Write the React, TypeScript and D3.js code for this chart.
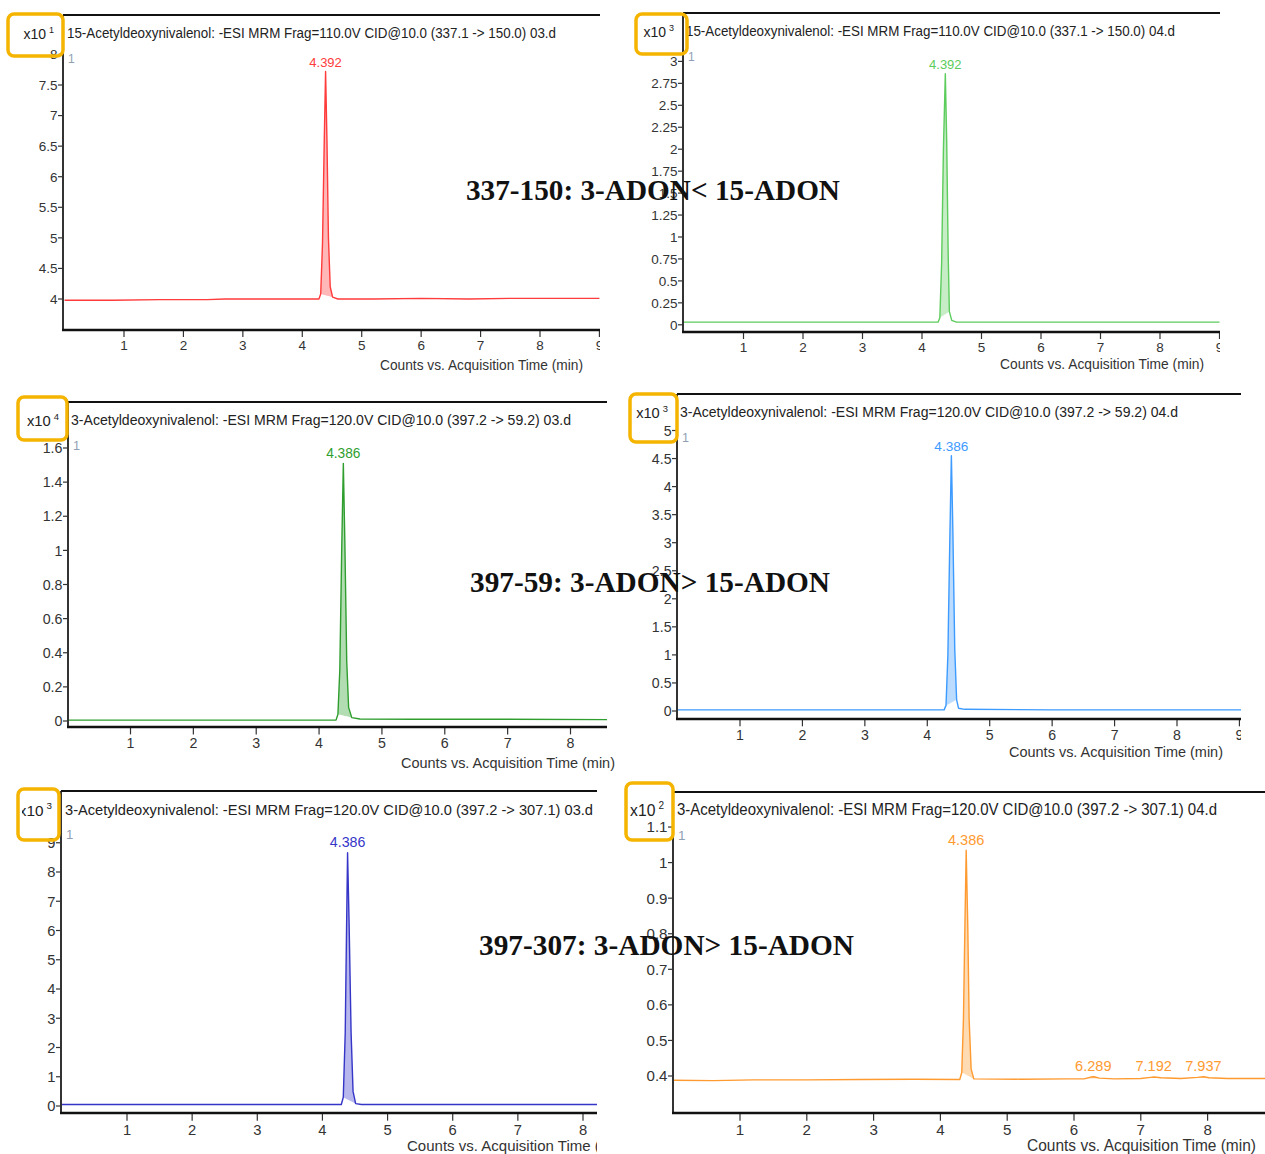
import React from 'react';
import * as d3 from 'd3';

type Pt = [number, number];

// ---- texts ----
const titles = [
  '15-Acetyldeoxynivalenol: -ESI MRM Frag=110.0V CID@10.0 (337.1 -> 150.0) 03.d',
  '15-Acetyldeoxynivalenol: -ESI MRM Frag=110.0V CID@10.0 (337.1 -> 150.0) 04.d',
  '3-Acetyldeoxynivalenol: -ESI MRM Frag=120.0V CID@10.0 (397.2 -> 59.2) 03.d',
  '3-Acetyldeoxynivalenol: -ESI MRM Frag=120.0V CID@10.0 (397.2 -> 59.2) 04.d',
  '3-Acetyldeoxynivalenol: -ESI MRM Frag=120.0V CID@10.0 (397.2 -> 307.1) 03.d',
  '3-Acetyldeoxynivalenol: -ESI MRM Frag=120.0V CID@10.0 (397.2 -> 307.1) 04.d',
];
const exponents = [1, 3, 4, 3, 3, 2];
const comparisons = ['337-150: 3-ADON< 15-ADON', '397-59: 3-ADON> 15-ADON', '397-307: 3-ADON> 15-ADON'];
const xAxisTitle = 'Counts vs. Acquisition Time (min)';

// ---- tick values ----
const timeTicksTo9 = [1, 2, 3, 4, 5, 6, 7, 8, 9];
const timeTicksTo8 = [1, 2, 3, 4, 5, 6, 7, 8];
const countTicks337_03 = [4, 4.5, 5, 5.5, 6, 6.5, 7, 7.5, 8];
const countTicks337_04 = [0, 0.25, 0.5, 0.75, 1, 1.25, 1.5, 1.75, 2, 2.25, 2.5, 2.75, 3];
const countTicks59_03 = [0, 0.2, 0.4, 0.6, 0.8, 1, 1.2, 1.4, 1.6];
const countTicks59_04 = [0, 0.5, 1, 1.5, 2, 2.5, 3, 3.5, 4, 4.5, 5];
const countTicks307_03 = [0, 1, 2, 3, 4, 5, 6, 7, 8, 9];
const countTicks307_04 = [0.4, 0.5, 0.6, 0.7, 0.8, 0.9, 1, 1.1];

// ---- chromatograms [time min, counts] ----
const trace337_03: Pt[] = [
  [0, 3.98], [0.8, 3.98], [1.6, 3.99], [2.4, 3.99], [2.7, 4.0], [3.2, 4.0], [3.8, 4.0],
  [4.28, 4.0], [4.31, 4.08], [4.34, 4.9], [4.37, 6.6], [4.392, 7.72], [4.415, 6.6],
  [4.44, 5.0], [4.47, 4.2], [4.51, 4.03], [4.6, 4.0], [5.2, 4.0], [6.0, 4.01], [6.8, 4.0],
  [7.5, 4.01], [8.3, 4.01], [9.0, 4.01],
];
const trace337_04: Pt[] = [
  [0, 0.03], [1.5, 0.03], [3, 0.03], [4.27, 0.03], [4.3, 0.08], [4.33, 0.7], [4.36, 2.0],
  [4.392, 2.86], [4.415, 2.1], [4.44, 0.8], [4.46, 0.15], [4.5, 0.05], [4.58, 0.03],
  [6, 0.03], [7.5, 0.03], [9, 0.03],
];
const trace59_03: Pt[] = [
  [0, 0.005], [2, 0.005], [4.27, 0.005], [4.3, 0.04], [4.33, 0.3], [4.36, 1.0],
  [4.386, 1.51], [4.41, 1.05], [4.44, 0.35], [4.47, 0.08], [4.52, 0.02], [4.65, 0.012],
  [5.5, 0.01], [7, 0.01], [8.6, 0.008],
];
const trace59_04: Pt[] = [
  [0, 0.02], [2, 0.02], [4.27, 0.02], [4.3, 0.1], [4.33, 1.0], [4.36, 3.0], [4.386, 4.55],
  [4.41, 3.2], [4.44, 1.1], [4.47, 0.2], [4.5, 0.05], [4.6, 0.03], [6, 0.02], [9.1, 0.02],
];
const trace307_03: Pt[] = [
  [0, 0.05], [2, 0.05], [4.29, 0.05], [4.32, 0.3], [4.35, 2.5], [4.37, 6.0], [4.386, 8.66],
  [4.41, 6.2], [4.44, 2.5], [4.47, 0.5], [4.51, 0.08], [4.6, 0.05], [6, 0.05], [8.3, 0.05],
];
const trace307_04: Pt[] = [
  [0, 0.388], [0.6, 0.387], [1.2, 0.389], [2.0, 0.389], [2.8, 0.39], [3.6, 0.391],
  [4.29, 0.39], [4.32, 0.41], [4.345, 0.56], [4.365, 0.8], [4.386, 1.035], [4.41, 0.82],
  [4.43, 0.56], [4.46, 0.42], [4.5, 0.392], [5.2, 0.391], [5.9, 0.392], [6.15, 0.392],
  [6.25, 0.397], [6.3, 0.398], [6.38, 0.394], [6.6, 0.392], [7.0, 0.393], [7.15, 0.396],
  [7.2, 0.397], [7.3, 0.395], [7.6, 0.393], [7.85, 0.396], [7.94, 0.398], [8.02, 0.395],
  [8.3, 0.393], [8.9, 0.393],
];

// labelled peaks [retention time, start, end]
const peaks337_03: [number, number, number][] = [[4.392, 4.29, 4.51]];
const peaks337_04: [number, number, number][] = [[4.392, 4.29, 4.47]];
const peaks59_03: [number, number, number][] = [[4.386, 4.28, 4.52]];
const peaks59_04: [number, number, number][] = [[4.386, 4.28, 4.49]];
const peaks307_03: [number, number, number][] = [[4.386, 4.3, 4.51]];
const peaks307_04: [number, number, number][] = [
  [4.386, 4.3, 4.5], [6.289, 6.15, 6.4], [7.192, 7.05, 7.32], [7.937, 7.82, 8.05],
];

const traces = [trace337_03, trace337_04, trace59_03, trace59_04, trace307_03, trace307_04];
const peaks = [peaks337_03, peaks337_04, peaks59_03, peaks59_04, peaks307_03, peaks307_04];
const xTicks = [timeTicksTo9, timeTicksTo9, timeTicksTo8, timeTicksTo9, timeTicksTo8, timeTicksTo8];
const yTicks = [countTicks337_03, countTicks337_04, countTicks59_03, countTicks59_04, countTicks307_03, countTicks307_04];

// ---- layout (pixels of the screenshot) ----
const layouts = [
  { left: 63, right: 600, top: 15, bottom: 330, clipL: 0, clipR: 600, xRef: [1, 124, 8, 540], yRef: [4, 299, 7.5, 85], k: 1, title: [67, 38, 489], xLab: [380, 370, 203], box: [8, 14, 55, 42] },
  { left: 683, right: 1220, top: 13, bottom: 332, clipL: 620, clipR: 1220, xRef: [1, 743.5, 8, 1160], yRef: [0, 324.8, 3, 61.4], k: 1, title: [686, 36, 489], xLab: [1000, 369, 204], box: [636, 14, 51, 40] },
  { left: 68, right: 607, top: 402, bottom: 727, clipL: 0, clipR: 615, xRef: [1, 130.5, 8, 570.5], yRef: [0, 721, 1.6, 448], k: 1.055, title: [71, 425, 500], xLab: [401, 768, 214], box: [18, 397, 49, 43] },
  { left: 677, right: 1241, top: 394, bottom: 719, clipL: 620, clipR: 1241, xRef: [1, 740, 8, 1177], yRef: [0, 711, 5, 430.5], k: 1.047, title: [680, 417, 498], xLab: [1009, 757, 214], box: [630, 394, 47, 48] },
  { left: 61, right: 597, top: 791, bottom: 1113, clipL: 22, clipR: 597, xRef: [1, 127, 8, 583], yRef: [0, 1106, 8, 872], k: 1.093, title: [65, 815, 528], xLab: [407, 1151, 222], box: [18, 789, 41, 51] },
  { left: 673, right: 1265, top: 792, bottom: 1113, clipL: 630, clipR: 1265, xRef: [1, 740, 8, 1207.6], yRef: [0.4, 1076, 1.0, 862.6], k: 1.12, title: [677, 815, 540], xLab: [1027, 1151, 229], box: [626, 783, 47, 57] },
];
const comparisonPos = [[466, 200, 374], [470, 592, 360], [479, 955, 375]];

const colors = [
  { line: '#ff3b3b', fill: '#ff7070' },
  { line: '#5ccc5c', fill: '#8fdc8f' },
  { line: '#2f9e2f', fill: '#66bb66' },
  { line: '#3d9bff', fill: '#7ab9ff' },
  { line: '#3535c8', fill: '#7070dc' },
  { line: '#ff9a30', fill: '#ffb868' },
];

const sans = "'Liberation Sans', Arial, sans-serif";

const Panel: React.FC<{ i: number }> = ({ i }) => {
  const L = layouts[i];
  const c = colors[i];
  const data = traces[i];
  const k = L.k;
  const x = d3.scaleLinear().domain([L.xRef[0], L.xRef[2]]).range([L.xRef[1], L.xRef[3]]);
  const y = d3.scaleLinear().domain([L.yRef[0], L.yRef[2]]).range([L.yRef[1], L.yRef[3]]);
  const line = d3.line<Pt>().x(d => x(d[0])).y(d => y(d[1]));

  const fills = peaks[i].map(([rt, s, e]) => {
    const pts = data.filter(d => d[0] >= s && d[0] <= e);
    const a = pts[0], b = pts[pts.length - 1];
    const base = (t: number) => a[1] + ((b[1] - a[1]) * (t - a[0])) / (b[0] - a[0] || 1);
    const area = d3.area<Pt>().x(d => x(d[0])).y0(d => y(base(d[0]))).y1(d => y(d[1]));
    const top = d3.max(pts, d => d[1]) as number;
    return { rt, d: area(pts) as string, top };
  });

  return (
    <g>
      <defs>
        <clipPath id={`plot-${i}`}>
          <rect x={L.left} y={L.top} width={L.right - L.left} height={L.bottom - L.top} />
        </clipPath>
        <clipPath id={`txt-${i}`}>
          <rect x={L.clipL} y={L.top - 30} width={L.clipR - L.clipL} height={L.bottom - L.top + 75} />
        </clipPath>
      </defs>
      <g clipPath={`url(#txt-${i})`} fontFamily={sans}>
        <text x={L.title[0]} y={L.title[1]} fontSize={14 * k} fill="#222" textLength={L.title[2]} lengthAdjust="spacingAndGlyphs">
          {titles[i]}
        </text>
        <text x={L.left - 9} y={L.title[1] + 1} fontSize={14 * k} fill="#222" textAnchor="end">
          x10<tspan dx={3} dy={-6 * k} fontSize={9 * k}>{exponents[i]}</tspan>
        </text>
        <text x={L.left + 5} y={L.top + 48} fontSize={12 * k} fill="#8fa0b4">1</text>
        {yTicks[i].map(v => (
          <g key={v}>
            <line x1={L.left - 5} x2={L.left} y1={y(v)} y2={y(v)} stroke="#333" strokeWidth={1.2} />
            <text x={L.left - 5.5} y={y(v)} dy="0.36em" fontSize={13.5 * k} fill="#333" textAnchor="end">
              {String(+v.toFixed(2))}
            </text>
          </g>
        ))}
        {xTicks[i].map(v => (
          <g key={v}>
            <line x1={x(v)} x2={x(v)} y1={L.bottom} y2={L.bottom + 7 * k} stroke="#333" strokeWidth={1.2} />
            <text x={x(v)} y={L.bottom + 20 * k} fontSize={13.5 * k} fill="#333" textAnchor="middle">{v}</text>
          </g>
        ))}
        <text x={L.xLab[0]} y={L.xLab[1]} fontSize={14 * k} fill="#333" textLength={L.xLab[2]} lengthAdjust="spacingAndGlyphs">
          {xAxisTitle}
        </text>
      </g>
      <g clipPath={`url(#plot-${i})`}>
        {fills.map(f => (
          <path key={f.rt} d={f.d} fill={c.fill} fillOpacity={0.5} stroke="none" />
        ))}
        <path d={line(data) as string} fill="none" stroke={c.line} strokeWidth={1.4} strokeLinejoin="round" />
      </g>
      {fills.map(f => (
        <text key={f.rt} x={x(f.rt)} y={y(f.top) - 5 * k} fontFamily={sans} fontSize={13 * k} fill={c.line} textAnchor="middle">
          {f.rt.toFixed(3)}
        </text>
      ))}
      <line x1={L.left} x2={L.left} y1={L.top} y2={L.bottom} stroke="#333" strokeWidth={2} />
      <line x1={L.left} x2={L.right} y1={L.top} y2={L.top} stroke="#111" strokeWidth={2} />
      <line x1={L.left - 1} x2={L.right} y1={L.bottom} y2={L.bottom} stroke="#111" strokeWidth={2.5} />
      <rect x={L.box[0]} y={L.box[1]} width={L.box[2]} height={L.box[3]} rx={6} fill="none" stroke="#f5b400" strokeWidth={3.5} />
    </g>
  );
};

const App: React.FC = () => (
  <div style={{ position: 'absolute', left: 0, top: 0 }}>
    <svg width={1265} height={1154} style={{ display: 'block', background: '#fff' }}>
      {layouts.map((_, i) => <Panel key={i} i={i} />)}
      {comparisons.map((t, j) => (
        <text key={t} x={comparisonPos[j][0]} y={comparisonPos[j][1]} fontFamily="'Liberation Serif', 'Times New Roman', serif"
          fontWeight="bold" fontSize={29} fill="#111" textLength={comparisonPos[j][2]} lengthAdjust="spacingAndGlyphs">
          {t}
        </text>
      ))}
    </svg>
  </div>
);

export default App;
